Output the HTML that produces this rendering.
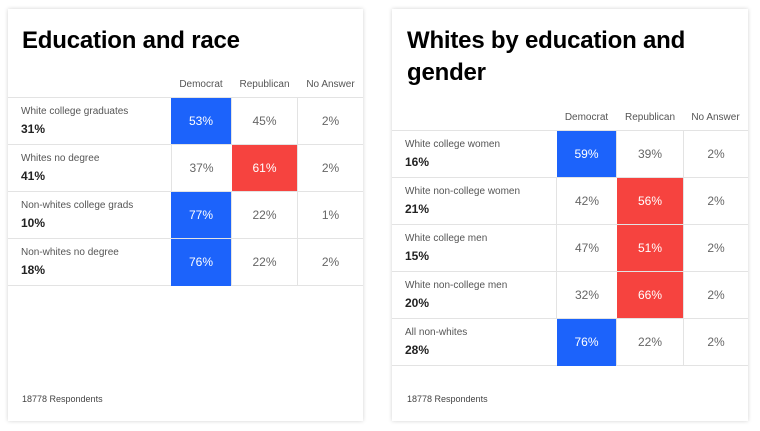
<!DOCTYPE html><html><head><style>
body{margin:0;width:760px;height:431px;background:#fff;font-family:"Liberation Sans",sans-serif;position:relative;overflow:hidden}
.card{position:absolute;top:9px;height:412px;background:#fff;box-shadow:0 0 4px rgba(0,0,0,.18)}
h1{position:absolute;margin:0;font-size:24px;font-weight:bold;color:#000;line-height:32px;letter-spacing:-.2px}
.hd{position:absolute;font-size:10px;color:#555;text-align:center}
.row{position:absolute;left:0;right:0;height:46px;border-top:1px solid #e3e3e3}
.row.last{border-bottom:1px solid #e3e3e3}
.lab{position:absolute;left:13px;top:8px;font-size:10px;color:#555}
.pct{position:absolute;left:13px;top:24px;font-size:12px;font-weight:bold;color:#222}
.c{position:absolute;top:0;height:47px;line-height:47px;text-align:center;font-size:12px;color:#666;border-left:1px solid #e3e3e3;box-sizing:border-box}
.b{background:#1c63fb;color:#fff;border-left:none}
.r{background:#f6433f;color:#fff;border-left:none}
.foot{position:absolute;font-size:9px;color:#444}
</style></head><body>
<div class="card" style="left:8px;width:355px">
<h1 style="left:14px;top:16px">Education and race</h1>
<div class="hd" style="left:163px;width:60px;top:70px">Democrat</div>
<div class="hd" style="left:224px;width:65px;top:70px">Republican</div>
<div class="hd" style="left:290px;width:65px;top:70px">No Answer</div>
<div class="row" style="top:88px"><div class="lab">White college graduates</div><div class="pct">31%</div><div class="c b" style="left:163px;width:60px">53%</div><div class="c" style="left:223px;width:66px">45%</div><div class="c" style="left:289px;width:66px">2%</div></div>
<div class="row" style="top:135px"><div class="lab">Whites no degree</div><div class="pct">41%</div><div class="c" style="left:163px;width:60px">37%</div><div class="c r" style="left:224px;width:65px">61%</div><div class="c" style="left:289px;width:66px">2%</div></div>
<div class="row" style="top:182px"><div class="lab">Non-whites college grads</div><div class="pct">10%</div><div class="c b" style="left:163px;width:60px">77%</div><div class="c" style="left:223px;width:66px">22%</div><div class="c" style="left:289px;width:66px">1%</div></div>
<div class="row last" style="top:229px"><div class="lab">Non-whites no degree</div><div class="pct">18%</div><div class="c b" style="left:163px;width:60px">76%</div><div class="c" style="left:223px;width:66px">22%</div><div class="c" style="left:289px;width:66px">2%</div></div>
<div class="foot" style="left:14px;top:385px">18778 Respondents</div>
</div>
<div class="card" style="left:392px;width:356px">
<h1 style="left:15px;top:16px">Whites by education and<br>gender</h1>
<div class="hd" style="left:165px;width:59px;top:103px">Democrat</div>
<div class="hd" style="left:225px;width:66px;top:103px">Republican</div>
<div class="hd" style="left:291px;width:65px;top:103px">No Answer</div>
<div class="row" style="top:121px"><div class="lab">White college women</div><div class="pct">16%</div><div class="c b" style="left:165px;width:59px">59%</div><div class="c" style="left:224px;width:67px">39%</div><div class="c" style="left:291px;width:65px">2%</div></div>
<div class="row" style="top:168px"><div class="lab">White non-college women</div><div class="pct">21%</div><div class="c" style="left:164px;width:61px">42%</div><div class="c r" style="left:225px;width:66px">56%</div><div class="c" style="left:291px;width:65px">2%</div></div>
<div class="row" style="top:215px"><div class="lab">White college men</div><div class="pct">15%</div><div class="c" style="left:164px;width:61px">47%</div><div class="c r" style="left:225px;width:66px">51%</div><div class="c" style="left:291px;width:65px">2%</div></div>
<div class="row" style="top:262px"><div class="lab">White non-college men</div><div class="pct">20%</div><div class="c" style="left:164px;width:61px">32%</div><div class="c r" style="left:225px;width:66px">66%</div><div class="c" style="left:291px;width:65px">2%</div></div>
<div class="row last" style="top:309px"><div class="lab">All non-whites</div><div class="pct">28%</div><div class="c b" style="left:165px;width:59px">76%</div><div class="c" style="left:224px;width:67px">22%</div><div class="c" style="left:291px;width:65px">2%</div></div>
<div class="foot" style="left:15px;top:385px">18778 Respondents</div>
</div>
</body></html>
